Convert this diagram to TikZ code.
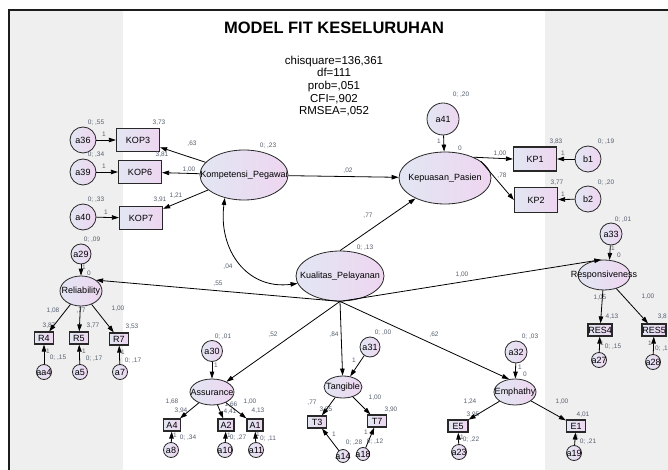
\documentclass[tikz,border=0pt]{standalone}
\usepackage{fontspec}
\setmainfont{Liberation Sans}
\usetikzlibrary{shapes.geometric,arrows.meta}

\definecolor{panel}{RGB}{239,239,239}
\definecolor{framec}{RGB}{28,28,28}
\definecolor{shadeL}{RGB}{226,230,243}
\definecolor{shadeR}{RGB}{238,214,240}
\definecolor{edgec}{RGB}{40,40,40}
\definecolor{numc}{RGB}{85,95,110}

\tikzset{
  fillgrad/.style={left color=shadeL, right color=shadeR},
  latent/.style={ellipse, draw=edgec, line width=0.8pt, fillgrad, inner sep=0pt},
  obsbox/.style={rectangle, draw=edgec, line width=1.2pt, fillgrad, inner sep=0pt},
  errc/.style={circle, draw=edgec, line width=0.8pt, fillgrad, inner sep=0pt},
  vname/.style={font=\fontsize{9}{10}\selectfont, text=black, inner sep=0pt},
  est/.style={font=\fontsize{6.5}{7}\selectfont, text=numc, inner sep=0pt},
  link/.style={-{Triangle[length=7pt,width=4.5pt]}, line width=0.8pt, draw=black},
  covar/.style={{Triangle[length=7pt,width=4.5pt]}-{Triangle[length=7pt,width=4.5pt]}, line width=0.8pt, draw=black},
}

% latent variable: name, position, width, height, text
\newcommand\latv[5]{%
  \node[latent, minimum width=#3pt, minimum height=#4pt] (#1) at (#2) {};
  \node[vname] (#1-t) at (#1.center) {#5};}
% observed variable box
\newcommand\obsv[5]{%
  \node[obsbox, minimum width=#3pt, minimum height=#4pt] (#1) at (#2) {};
  \node[vname] (#1-t) at (#1.center) {#5};}
% error term circle: name, position, diameter, text
\newcommand\errv[4]{%
  \node[errc, minimum size=#3pt] (#1) at (#2) {};
  \node[vname] (#1-t) at (#1.center) {#4};}
% small estimate label
\newcommand\est[3]{\node[est] (#1) at (#2) {#3};}

\begin{document}
\begin{tikzpicture}[x=1pt,y=-1pt]
\useasboundingbox (0,0) rectangle (668,470);

% page background and side panels
\fill[white] (0,0) rectangle (668,470);
\fill[panel] (10,10) rectangle (123,470);
\fill[panel] (545,10) rectangle (668,470);
\draw[framec, line width=2pt] (9,470) -- (9,10) -- (668,10);

% heading and fit statistics
\node[font=\fontsize{16.5}{18}\selectfont\bfseries] (title) at (334,28) {MODEL FIT KESELURUHAN};
\node[font=\fontsize{11.5}{12.7}\selectfont, align=center, inner sep=0pt] (fit) at (334,86)
  {chisquare=136,361\\df=111\\prob=,051\\CFI=,902\\RMSEA=,052};

% latent variables
\latv{komp}{244,175}{88}{50}{Kompetensi\_Pegawai}
\latv{kep}{445,178}{92}{52}{Kepuasan\_Pasien}
\latv{kual}{340,276}{88}{50}{Kualitas\_Pelayanan}
\latv{rel}{81,291}{42}{30}{Reliability}
\latv{resp}{604,275}{52}{30}{Responsiveness}
\latv{assur}{212,392}{44}{26}{Assurance}
\latv{tang}{343,387}{38}{22}{Tangible}
\latv{emph}{515,392}{42}{26}{Emphathy}

% observed indicators
\obsv{kop3}{138,140}{43}{23}{KOP3}
\obsv{kop6}{140,172}{43}{23}{KOP6}
\obsv{kop7}{141,218}{43}{23}{KOP7}
\obsv{kp1}{535,159}{43}{24}{KP1}
\obsv{kp2}{536,200}{43}{25}{KP2}
\obsv{r4}{44,338}{19}{12}{R4}
\obsv{r5}{79,338}{19}{12}{R5}
\obsv{r7}{119,339}{19}{12}{R7}
\obsv{res4}{600,330}{24}{12}{RES4}
\obsv{res5}{654,330}{24}{12}{RES5}
\obsv{bA4}{172,425}{17}{12}{A4}
\obsv{bA2}{226,425}{16}{12}{A2}
\obsv{bA1}{255,425}{16}{12}{A1}
\obsv{bT3}{317,422}{19}{12}{T3}
\obsv{bT7}{377,421}{19}{12}{T7}
\obsv{bE5}{458,426}{20}{12}{E5}
\obsv{bE1}{576,426}{19}{12}{E1}

% error terms
\errv{a36}{83,140}{26}{a36}
\errv{a39}{83,172}{26}{a39}
\errv{a40}{83,217}{26}{a40}
\errv{a41}{443,119}{32}{a41}
\errv{b1}{588,159}{26}{b1}
\errv{b2}{588,199}{26}{b2}
\errv{a29}{81,254}{20}{a29}
\errv{aa4}{44,372}{15}{aa4}
\errv{a5}{80,372}{15}{a5}
\errv{a7}{120,372}{15}{a7}
\errv{a33}{611,234}{22}{a33}
\errv{a27}{599,360}{15}{a27}
\errv{a28}{653,362}{15}{a28}
\errv{a30}{212,351}{21}{a30}
\errv{a8}{171,450}{15}{a8}
\errv{a10}{225,450}{15}{a10}
\errv{a11}{256,450}{15}{a11}
\errv{a31}{370,347}{20}{a31}
\errv{a14}{343,456}{13}{a14}
\errv{a18}{363,454}{13}{a18}
\errv{a32}{516,352}{22}{a32}
\errv{a23}{459,452}{15}{a23}
\errv{a19}{574,453}{15}{a19}

% estimates: Kompetensi_Pegawai block
\est{v-a36}{96,123}{0; ,55}
\est{i-kop3}{159,123}{3,73}
\est{w-a36}{104,134}{1}
\est{v-a39}{96,155}{0; ,34}
\est{i-kop6}{162,155}{3,81}
\est{w-a39}{104,166}{1}
\est{v-a40}{96,200}{0; ,33}
\est{i-kop7}{160,200}{3,91}
\est{w-kop7}{176,196}{1,21}
\est{w-a40}{106,212}{1}
\est{w-kop3}{192,144}{,63}
\est{w-kop6}{189,170}{1,00}
\est{v-komp}{268,146}{0; ,23}
\est{w-kk}{348,171}{,02}
% Kepuasan_Pasien block
\est{v-a41}{461,95}{0; ,20}
\est{w-a41}{439,141}{1}
\est{i-kep}{460,148}{0}
\est{i-kp1}{556,142}{3,83}
\est{v-b1}{606,142}{0; ,19}
\est{w-b1}{563,153}{1}
\est{i-kp2}{557,183}{3,77}
\est{v-b2}{606,183}{0; ,20}
\est{w-b2}{563,194}{1}
\est{w-kp1}{500,154}{1,00}
\est{w-kp2}{502,176}{,78}
% Kualitas_Pelayanan paths
\est{w-kual}{368,216}{,77}
\est{v-kual}{365,248}{0; ,13}
\est{c-kk}{228,267}{,04}
\est{w-rel}{218,284}{,55}
\est{w-resp}{462,275}{1,00}
\est{w-assur}{273,335}{,52}
\est{w-tang}{334,335}{,84}
\est{w-emph}{434,335}{,62}
% Reliability block
\est{v-a29}{92,240}{0; ,09}
\est{w-a29}{84,267}{1}
\est{i-rel}{89,273}{0}
\est{w-r4}{53,311}{1,08}
\est{w-r5}{81,311}{,77}
\est{w-r7}{118,309}{1,00}
\est{i-r4}{49,326}{3,87}
\est{i-r5}{93,326}{3,77}
\est{i-r7}{132,327}{3,53}
\est{w-aa4}{48,351}{1}
\est{v-aa4}{58,358}{0; ,15}
\est{w-a5}{84,351}{1}
\est{v-a5}{94,359}{0; ,17}
\est{w-a7}{123,352}{1}
\est{v-a7}{133,361}{0; ,17}
% Responsiveness block
\est{v-a33}{623,220}{0; ,01}
\est{w-a33}{613,248}{1}
\est{i-resp}{619,255}{0}
\est{w-res4}{600,298}{1,05}
\est{w-res5}{648,297}{1,00}
\est{i-res4}{612,317}{4,13}
\node[est, anchor=east] (i-res5) at (667,317) {3,8};
\est{w-a27}{602,343}{1}
\est{v-a27}{613,347}{0; ,15}
\est{w-a28}{650,343}{1}
\node[est, anchor=east] (v-a28) at (668,349) {0; ,1};
% Assurance block
\est{v-a30}{223,337}{0; ,01}
\est{w-a30}{216,365}{1}
\est{w-a4}{172,402}{1,68}
\est{i-a4}{181,411}{3,94}
\est{w-a2}{231,405}{1,66}
\est{i-a2}{230,412}{4,41}
\est{w-a1}{250,402}{1,00}
\est{i-a1}{258,411}{4,13}
\est{w-a8}{175,435}{1}
\est{v-a8}{188,438}{0; ,34}
\est{w-a10}{229,435}{1}
\est{v-a10}{238,438}{0; ,27}
\est{w-a11}{258,434}{1}
\est{v-a11}{268,439}{0; ,11}
% Tangible block
\est{v-a31}{383,333}{0; ,00}
\est{w-a31}{354,360}{1}
\est{w-t3}{312,403}{,77}
\est{i-t3}{326,410}{3,55}
\est{w-t7}{375,398}{1,00}
\est{i-t7}{391,410}{3,90}
\est{w-a14}{334,434}{1}
\est{v-a14}{354,443}{0; ,28}
\est{v-a18}{375,442}{0; ,12}
\est{w-a18}{366,432}{1}
% Emphathy block
\est{v-a32}{530,337}{0; ,03}
\est{w-a32}{520,367}{1}
\est{i-emph}{525,374}{0}
\est{w-e5}{470,402}{1,24}
\est{i-e5}{473,415}{3,95}
\est{w-e1}{562,402}{1,00}
\est{i-e1}{583,415}{4,01}
\est{w-a23}{462,437}{1}
\est{v-a23}{471,440}{0; ,22}
\est{w-a19}{577,437}{1}
\est{v-a19}{588,442}{0; ,21}

% structural paths
\draw[link] (komp) -- (kep);
\draw[link] (kual.north) -- (kep);
\draw[link] (a41) -- (kep);
\draw[covar] (komp.230) .. controls (218,250) and (247,290) .. (kual.190);
\draw[link] (kual.south) -- (rel.north east);
\draw[link] (kual.south) -- (resp.100);
\draw[link] (kual.south) -- (assur);
\draw[link] (kual.south) -- (tang);
\draw[link] (kual.south) -- (emph.115);

% measurement paths
\draw[link] (komp) -- (kop3);
\draw[link] (komp) -- (kop6);
\draw[link] (komp) -- (kop7);
\draw[link] (a36) -- (kop3);
\draw[link] (a39) -- (kop6);
\draw[link] (a40) -- (kop7);
\draw[link] (kep.36) -- (kp1.west);
\draw[link] (kep.25) -- (kp2.west);
\draw[link] (b1) -- (kp1);
\draw[link] (b2) -- (kp2);

\draw[link] (a29) -- (rel);
\draw[link] (rel) -- (r4);
\draw[link] (rel) -- (r5);
\draw[link] (rel) -- (r7);
\draw[link] (aa4) -- (r4);
\draw[link] (a5) -- (r5);
\draw[link] (a7) -- (r7);

\draw[link] (a33) -- (resp.70);
\draw[link] (resp) -- (res4);
\draw[link] (resp) -- (res5);
\draw[link] (a27) -- (res4);
\draw[link] (a28) -- (res5);

\draw[link] (a30) -- (assur);
\draw[link] (assur) -- (bA4);
\draw[link] (assur) -- (bA2);
\draw[link] (assur) -- (bA1);
\draw[link] (a8) -- (bA4);
\draw[link] (a10) -- (bA2);
\draw[link] (a11) -- (bA1);

\draw[link] (a31) -- (tang);
\draw[link] (tang) -- (bT3);
\draw[link] (tang) -- (bT7);
\draw[link] (a14) -- (bT3);
\draw[link] (a18) -- (bT7);

\draw[link] (a32) -- (emph);
\draw[link] (emph) -- (bE5);
\draw[link] (emph) -- (bE1);
\draw[link] (a23) -- (bE5);
\draw[link] (a19) -- (bE1);
\end{tikzpicture}
\end{document}
